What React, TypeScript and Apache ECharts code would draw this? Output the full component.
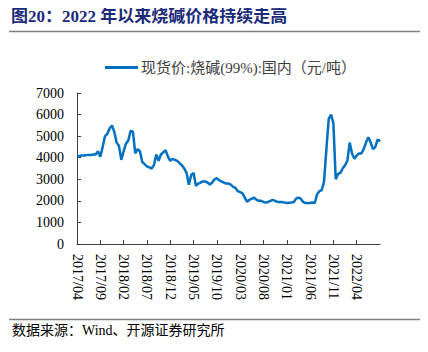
import React, { useEffect, useRef } from "react";
import * as echarts from "echarts";

const titleText = "图20：2022 年以来烧碱价格持续走高";
const sourceText = "数据来源：Wind、开源证券研究所";
const seriesName = "现货价:烧碱(99%):国内（元/吨）";

// half-monthly observations starting 2017/04
const startYear = 2017;
const startMonth = 4;
const prices = [
  4050, 4080, 4100, 4100, 4120, 4130, 4130, 4150, 4150, 4300,
  4050, 4500, 5000, 5100, 5350, 5500, 5200, 4700, 4550, 3900,
  4300, 4650, 4800, 5250, 5200, 4200, 4400, 4300, 3800, 3700,
  3600, 3550, 3500, 3650, 4150, 3850, 4150, 4250, 4350, 4050,
  3850, 3950, 3900, 3850, 3750, 3650, 3500, 3300, 2750, 3200,
  3300, 2700, 2800, 2850, 2900, 2900, 2850, 2750, 2850, 3000,
  3050, 2950, 2900, 2850, 2800, 2800, 2750, 2650, 2600, 2450,
  2400, 2350, 2150, 1950, 2050, 2100, 2150, 2050, 2000, 2000,
  1950, 1920, 1950, 2000, 2050, 2000, 1950, 1950, 1950, 1920,
  1900, 1910, 1920, 1950, 2100, 2150, 2100, 1950, 1900, 1900,
  1900, 1920, 1900, 2300, 2450, 2500, 2900, 4400, 5800, 6000,
  5600, 3000, 3250, 3300, 3500, 3650, 3850, 4700, 4200, 3950,
  4100, 4200, 4200, 4400, 4700, 4950, 4700, 4400, 4500, 4850,
  4750,
];

const dates = prices.map((_, i) => {
  const m = Math.floor(i / 2);
  const total = startMonth - 1 + m;
  const y = startYear + Math.floor(total / 12);
  const mo = (total % 12) + 1;
  return `${y}/${String(mo).padStart(2, "0")}/${i % 2 === 0 ? "01" : "16"}`;
});

const yTicks = { min: 0, max: 7000, interval: 1000 };
const labelEvery = 10; // every 5 months
const lastLabelIndex = 120;

export default function App() {
  const ref = useRef<HTMLDivElement>(null);
  useEffect(() => {
    if (!ref.current) return;
    const chart = echarts.init(ref.current, undefined, { renderer: "svg" });
    const serif = "'Liberation Serif', 'Times New Roman', 'Noto Sans CJK SC', serif";
    const showIdx = (i: number) => i % labelEvery === 0 && i <= lastLabelIndex;
    chart.setOption({
      animation: false,
      backgroundColor: "#ffffff",
      grid: { left: 77, right: 48, top: 93, bottom: 108, containLabel: false },
      legend: {
        show: true,
        left: 100,
        top: 55,
        itemWidth: 33,
        itemHeight: 3,
        itemGap: 4,
        icon: "rect",
        textStyle: { fontFamily: serif, fontSize: 15, color: "#404040", padding: [0, 0, 0, -2] },
        data: [seriesName],
      },
      xAxis: {
        type: "category",
        data: dates,
        boundaryGap: false,
        axisLine: { lineStyle: { color: "#404040", width: 1 } },
        axisTick: {
          inside: true,
          length: 4,
          interval: showIdx,
          lineStyle: { color: "#404040" },
        },
        axisLabel: {
          interval: showIdx,
          rotate: -90,
          margin: 10,
          fontFamily: serif,
          fontSize: 14,
          color: "#000",
          formatter: (v: string) => v.slice(0, 7),
        },
        splitLine: { show: false },
      },
      yAxis: {
        type: "value",
        min: yTicks.min,
        max: yTicks.max,
        interval: yTicks.interval,
        axisLine: { show: true, lineStyle: { color: "#404040", width: 1 } },
        axisTick: { show: true, inside: true, length: 4, lineStyle: { color: "#404040" } },
        axisLabel: {
          fontFamily: serif,
          fontSize: 14,
          color: "#000",
          margin: 13,
          formatter: (v: number) => String(v),
        },
        splitLine: { show: false },
      },
      series: [
        {
          name: seriesName,
          type: "line",
          data: prices,
          showSymbol: false,
          symbol: "none",
          lineStyle: { color: "#0070c0", width: 2.5 },
          itemStyle: { color: "#0070c0" },
        },
      ],
      graphic: [
        {
          type: "text",
          left: 11,
          top: 8,
          style: {
            text: titleText,
            font: `bold 17px ${serif}`,
            fill: "#1c2a7a",
          },
        },
        {
          type: "line",
          shape: { x1: 9, y1: 31.5, x2: 421, y2: 31.5 },
          style: { stroke: "#7f7f7f", lineWidth: 1.5 },
        },
        {
          type: "line",
          shape: { x1: 9, y1: 319.5, x2: 421, y2: 319.5 },
          style: { stroke: "#7f7f7f", lineWidth: 1.5 },
        },
        {
          type: "text",
          left: 12,
          top: 323,
          style: {
            text: sourceText,
            font: `14px ${serif}`,
            fill: "#000",
          },
        },
      ],
    });
    return () => chart.dispose();
  }, []);
  return <div ref={ref} style={{ width: 428, height: 352, margin: -8 }} />;
}
